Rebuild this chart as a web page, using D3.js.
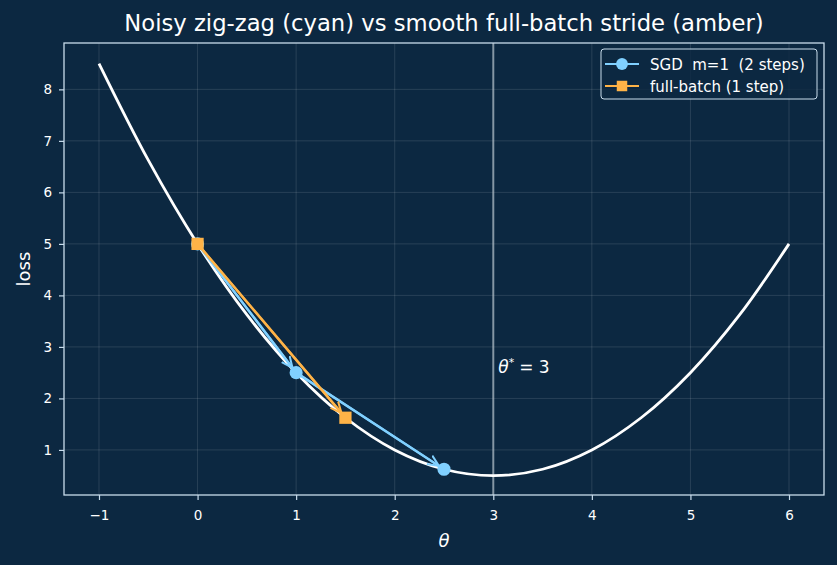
<!DOCTYPE html>
<html>
<head>
<meta charset="utf-8">
<script src="https://cdn.jsdelivr.net/npm/d3@7"></script>
<style>
  body { margin: 0; background: #0c2841; }
  svg { display: block; font-family: "DejaVu Sans", sans-serif; }
</style>
</head>
<body>
<div id="chart"></div>
<script>
const WIDTH = 837, HEIGHT = 565;
const MARGIN = { left: 64, right: 13, top: 43, bottom: 70 };

// loss curve
const curveTheta = [-1, -0.5, 0, 0.5, 1, 1.5, 2, 2.5, 3, 3.5, 4, 4.5, 5, 5.5, 6];
const curveLoss = [8.5, 6.625, 5, 3.625, 2.5, 1.625, 1.0, 0.625, 0.5, 0.625, 1.0, 1.625, 2.5, 3.625, 5];

const sgdTheta = [0, 1, 2.5];
const sgdLoss = [5, 2.5, 0.625];
const fullTheta = [0, 1.5];
const fullLoss = [5, 1.625];

const thetaStar = 3;
const xTicks = [-1, 0, 1, 2, 3, 4, 5, 6];
const yTicks = [1, 2, 3, 4, 5, 6, 7, 8];

const CYAN = "#80d0ff", AMBER = "#ffb347";

const svg = d3.select("#chart").append("svg")
    .attr("width", WIDTH)
    .attr("height", HEIGHT);

svg.append("rect").attr("width", WIDTH).attr("height", HEIGHT).attr("fill", "#0c2841");

const w = WIDTH - MARGIN.left - MARGIN.right;
const h = HEIGHT - MARGIN.top - MARGIN.bottom;

const x = d3.scaleLinear().domain([-1.355, 6.355]).range([0, w]);
const y = d3.scaleLinear().domain([0.125, 8.9]).range([h, 0]);

const g = svg.append("g").attr("transform", `translate(${MARGIN.left}, ${MARGIN.top})`);

// grid
g.append("g").selectAll("line").data(xTicks).join("line")
    .attr("x1", d => x(d)).attr("x2", d => x(d)).attr("y1", 0).attr("y2", h)
    .attr("stroke", "#ffffff").attr("stroke-opacity", 0.15).attr("stroke-width", 0.8);
g.append("g").selectAll("line").data(yTicks).join("line")
    .attr("y1", d => y(d)).attr("y2", d => y(d)).attr("x1", 0).attr("x2", w)
    .attr("stroke", "#ffffff").attr("stroke-opacity", 0.15).attr("stroke-width", 0.8);

// axes
const xAxis = d3.axisBottom(x).tickValues(xTicks).tickSize(5).tickPadding(10)
    .tickFormat(d => d < 0 ? "\u2212" + Math.abs(d) : d);
const yAxis = d3.axisLeft(y).tickValues(yTicks).tickSize(5).tickPadding(7);

const gx = g.append("g").attr("transform", `translate(0, ${h})`).call(xAxis);
const gy = g.append("g").call(yAxis);
[gx, gy].forEach(a => {
    a.attr("font-size", null).attr("font-family", null);
    a.select(".domain").remove();
    a.selectAll("line").attr("stroke", "#c8dcec").attr("stroke-width", 1.2);
    a.selectAll("text").attr("fill", "#ffffff").attr("font-size", 13.5);
});

// theta* line
g.append("line")
    .attr("x1", x(thetaStar)).attr("x2", x(thetaStar)).attr("y1", 0).attr("y2", h)
    .attr("stroke", "#b0bec8").attr("stroke-opacity", 0.7).attr("stroke-width", 2);

g.append("text")
    .attr("x", x(thetaStar) + 5).attr("y", y(2.5))
    .attr("fill", "#ffffff").style("font-size", "17px")
    .html('<tspan font-style="italic">θ</tspan><tspan dy="-7" font-size="11">*</tspan><tspan dy="7" dx="5">= 3</tspan>');

// loss curve
const curvePts = curveTheta.map((t, i) => [t, curveLoss[i]]);
g.append("path")
    .datum(curvePts)
    .attr("fill", "none")
    .attr("stroke", "#ffffff")
    .attr("stroke-width", 2.8)
    .attr("d", d3.line().x(d => x(d[0])).y(d => y(d[1])).curve(d3.curveCatmullRom.alpha(0.5)));

// arrow markers
const defs = svg.append("defs");
[["cyan", CYAN], ["amber", AMBER]].forEach(([id, c]) => {
    defs.append("marker")
        .attr("id", "arrow-" + id)
        .attr("viewBox", "0 0 10 10").attr("refX", 9).attr("refY", 5)
        .attr("markerWidth", 5).attr("markerHeight", 5)
        .attr("markerUnits", "strokeWidth")
        .attr("orient", "auto")
        .append("path").attr("d", "M0,1 L9,5 L0,9")
        .attr("fill", "none").attr("stroke", c).attr("stroke-width", 1.6);
});

const drawPath = (thetas, losses, color, id, symbol) => {
    const pts = thetas.map((t, i) => [t, losses[i]]);
    g.append("path")
        .datum(pts)
        .attr("fill", "none").attr("stroke", color).attr("stroke-width", 2)
        .attr("d", d3.line().x(d => x(d[0])).y(d => y(d[1])));
    // arrows between consecutive iterates, stopping short of the marker
    for (let i = 1; i < pts.length; i++) {
        const x0 = x(pts[i - 1][0]), y0 = y(pts[i - 1][1]);
        const x1 = x(pts[i][0]), y1 = y(pts[i][1]);
        const len = Math.hypot(x1 - x0, y1 - y0);
        const k = (len - 6) / len;
        g.append("line")
            .attr("x1", x0).attr("y1", y0)
            .attr("x2", x0 + (x1 - x0) * k).attr("y2", y0 + (y1 - y0) * k)
            .attr("stroke", color).attr("stroke-width", 2.5)
            .attr("marker-end", `url(#arrow-${id})`);
    }
    g.append("g").selectAll("path").data(pts).join("path")
        .attr("transform", d => `translate(${x(d[0])}, ${y(d[1])})`)
        .attr("d", d3.symbol().type(symbol).size(symbol === d3.symbolSquare ? 150 : 135))
        .attr("fill", color);
};

drawPath(sgdTheta, sgdLoss, CYAN, "cyan", d3.symbolCircle);
drawPath(fullTheta, fullLoss, AMBER, "amber", d3.symbolSquare);

// frame
g.append("rect").attr("width", w).attr("height", h)
    .attr("fill", "none").attr("stroke", "#c8dcec").attr("stroke-width", 1.3);

// legend
const lg = g.append("g").attr("transform", `translate(${w - 223}, 6)`);
lg.append("rect").attr("width", 216).attr("height", 50).attr("rx", 3)
    .attr("fill", "#0c2841").attr("fill-opacity", 0.8)
    .attr("stroke", "#c8dcec").attr("stroke-width", 1);
const legendItems = [
    { label: "SGD  m=1  (2 steps)", color: CYAN, symbol: d3.symbolCircle },
    { label: "full-batch (1 step)", color: AMBER, symbol: d3.symbolSquare }
];
legendItems.forEach((it, i) => {
    const row = lg.append("g").attr("transform", `translate(4, ${15 + i * 22})`);
    row.append("line").attr("x1", 0).attr("x2", 34).attr("stroke", it.color).attr("stroke-width", 2.2);
    row.append("path").attr("transform", "translate(17,0)")
        .attr("d", d3.symbol().type(it.symbol).size(110)).attr("fill", it.color);
    row.append("text").attr("x", 45).attr("y", 5.5)
        .attr("fill", "#ffffff").style("font-size", "15px").style("white-space", "pre")
        .text(it.label);
});

// labels
svg.append("text")
    .attr("x", MARGIN.left + w / 2).attr("y", 31)
    .attr("text-anchor", "middle").attr("fill", "#ffffff")
    .style("font-size", "22.7px")
    .text("Noisy zig-zag (cyan) vs smooth full-batch stride (amber)");

svg.append("text")
    .attr("x", MARGIN.left + w / 2).attr("y", 547)
    .attr("text-anchor", "middle").attr("fill", "#ffffff")
    .style("font-size", "18px").style("font-style", "italic")
    .text("θ");

svg.append("text")
    .attr("transform", `translate(30, ${MARGIN.top + h / 2}) rotate(-90)`)
    .attr("text-anchor", "middle").attr("fill", "#ffffff")
    .style("font-size", "18px")
    .text("loss");
</script>
</body>
</html>
